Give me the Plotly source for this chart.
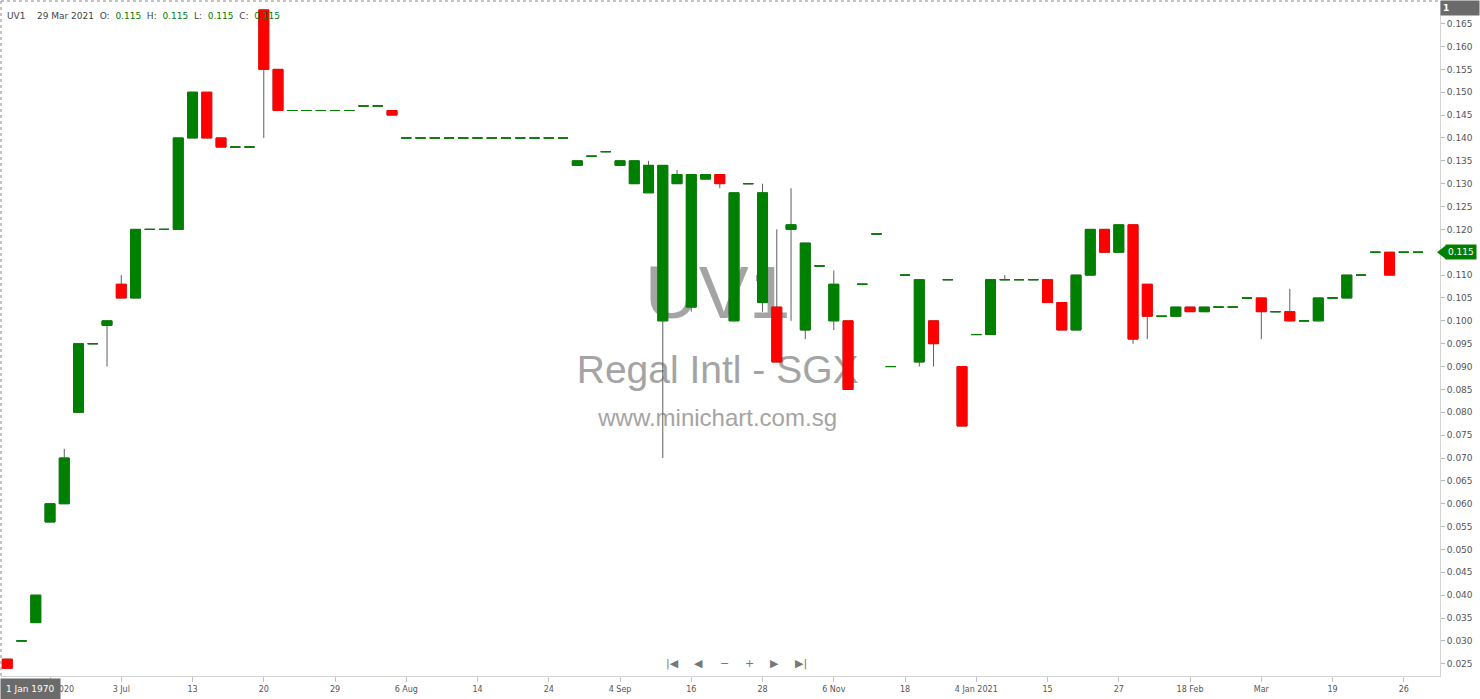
import plotly.graph_objects as go

# ---------------- data (one candle per trading session) ----------------
candle_index = list(range(100))

opens = [0.026, 0.030, 0.034, 0.056, 0.060, 0.080, 0.095, 0.099, 0.108, 0.105,
         0.120, 0.120, 0.120, 0.140, 0.150, 0.140, 0.138, 0.138, 0.168, 0.155,
         0.146, 0.146, 0.146, 0.146, 0.146, 0.147, 0.147, 0.146, 0.140, 0.140,
         0.140, 0.140, 0.140, 0.140, 0.140, 0.140, 0.140, 0.140, 0.140, 0.140,
         0.134, 0.136, 0.137, 0.134, 0.130, 0.128, 0.100, 0.130, 0.103, 0.131,
         0.132, 0.100, 0.130, 0.104, 0.103, 0.120, 0.098, 0.112, 0.100, 0.100,
         0.108, 0.119, 0.090, 0.110, 0.091, 0.100, 0.109, 0.090, 0.097, 0.097,
         0.109, 0.109, 0.109, 0.109, 0.104, 0.098, 0.110, 0.120, 0.115, 0.121,
         0.108, 0.101, 0.101, 0.103, 0.102, 0.103, 0.103, 0.105, 0.105, 0.102,
         0.102, 0.100, 0.100, 0.105, 0.105, 0.110, 0.115, 0.115, 0.115, 0.115]

highs = [0.026, 0.030, 0.040, 0.060, 0.072, 0.095, 0.095, 0.100, 0.110, 0.120,
         0.120, 0.120, 0.140, 0.150, 0.150, 0.140, 0.138, 0.138, 0.168, 0.155,
         0.146, 0.146, 0.146, 0.146, 0.146, 0.147, 0.147, 0.146, 0.140, 0.140,
         0.140, 0.140, 0.140, 0.140, 0.140, 0.140, 0.140, 0.140, 0.140, 0.140,
         0.135, 0.136, 0.137, 0.135, 0.135, 0.135, 0.134, 0.133, 0.132, 0.132,
         0.132, 0.128, 0.130, 0.130, 0.120, 0.129, 0.117, 0.112, 0.111, 0.100,
         0.108, 0.119, 0.090, 0.110, 0.109, 0.100, 0.109, 0.090, 0.097, 0.109,
         0.110, 0.109, 0.109, 0.109, 0.104, 0.110, 0.120, 0.120, 0.121, 0.121,
         0.108, 0.101, 0.103, 0.103, 0.103, 0.103, 0.103, 0.105, 0.105, 0.102,
         0.107, 0.100, 0.105, 0.105, 0.110, 0.110, 0.115, 0.115, 0.115, 0.115]

lows = [0.024, 0.030, 0.034, 0.056, 0.060, 0.080, 0.095, 0.090, 0.105, 0.105,
        0.120, 0.120, 0.120, 0.140, 0.140, 0.138, 0.138, 0.138, 0.140, 0.146,
        0.146, 0.146, 0.146, 0.146, 0.146, 0.147, 0.147, 0.145, 0.140, 0.140,
        0.140, 0.140, 0.140, 0.140, 0.140, 0.140, 0.140, 0.140, 0.140, 0.140,
        0.134, 0.136, 0.137, 0.134, 0.130, 0.128, 0.070, 0.130, 0.102, 0.131,
        0.129, 0.100, 0.130, 0.102, 0.091, 0.100, 0.096, 0.112, 0.098, 0.085,
        0.108, 0.119, 0.090, 0.110, 0.090, 0.090, 0.109, 0.077, 0.097, 0.097,
        0.109, 0.109, 0.109, 0.104, 0.098, 0.098, 0.110, 0.115, 0.115, 0.095,
        0.096, 0.101, 0.101, 0.102, 0.102, 0.103, 0.103, 0.105, 0.096, 0.102,
        0.100, 0.100, 0.100, 0.105, 0.105, 0.110, 0.115, 0.110, 0.115, 0.115]

closes = [0.024, 0.030, 0.040, 0.060, 0.070, 0.095, 0.095, 0.100, 0.105, 0.120,
          0.120, 0.120, 0.140, 0.150, 0.140, 0.138, 0.138, 0.138, 0.155, 0.146,
          0.146, 0.146, 0.146, 0.146, 0.146, 0.147, 0.147, 0.145, 0.140, 0.140,
          0.140, 0.140, 0.140, 0.140, 0.140, 0.140, 0.140, 0.140, 0.140, 0.140,
          0.135, 0.136, 0.137, 0.135, 0.135, 0.134, 0.134, 0.132, 0.132, 0.132,
          0.130, 0.128, 0.130, 0.128, 0.091, 0.121, 0.117, 0.112, 0.108, 0.085,
          0.108, 0.119, 0.090, 0.110, 0.109, 0.095, 0.109, 0.077, 0.097, 0.109,
          0.109, 0.109, 0.109, 0.104, 0.098, 0.110, 0.120, 0.115, 0.121, 0.096,
          0.101, 0.101, 0.103, 0.102, 0.103, 0.103, 0.103, 0.105, 0.102, 0.102,
          0.100, 0.100, 0.105, 0.105, 0.110, 0.110, 0.115, 0.110, 0.115, 0.115]

tick_positions = [3, 8, 13, 18, 23, 28, 33, 38, 43, 48,
                  53, 58, 63, 68, 73, 78, 83, 88, 93, 98]
tick_labels = ["26 Jun 2020", "3 Jul", "13", "20", "29", "6 Aug", "14", "24", "4 Sep", "16",
               "28", "6 Nov", "18", "4 Jan 2021", "15", "27", "18 Feb", "Mar", "19", "26"]

symbol = "UV1"
company = "Regal Intl - SGX"
website = "www.minichart.com.sg"
last_date = "29 Mar 2021"
crosshair_date = "1 Jan 1970"

GREEN = "#008000"
RED = "#ff0000"
WICK = "#5e5e5e"
WM = "#a4a4a4"

x_range = [-0.44, 100.54]
y_range = [0.02232, 0.16995]

# ---------------- figure ----------------
fig = go.Figure()

# watermark on the base (bottom) subplot so candles are drawn over it
fig.add_trace(go.Scatter(
    x=[0.498, 0.498, 0.498], y=[0.558, 0.448, 0.379],
    mode="text", text=[symbol, company, website],
    textposition="middle center",
    textfont=dict(family="Liberation Sans, Arial", size=[75, 39, 24], color=WM),
    xaxis="x", yaxis="y", hoverinfo="skip", showlegend=False))

# wicks (all candles)
fig.add_trace(go.Candlestick(
    x=candle_index, open=opens, high=highs, low=lows, close=closes,
    xaxis="x2", yaxis="y2",
    increasing=dict(line=dict(color=WICK, width=1), fillcolor="rgba(0,0,0,0)"),
    decreasing=dict(line=dict(color=WICK, width=1), fillcolor="rgba(0,0,0,0)"),
    hoverinfo="skip", showlegend=False))

# bodies
g_idx = [i for i in candle_index if closes[i] >= opens[i]]
r_idx = [i for i in candle_index if closes[i] < opens[i]]
for idx, col in ((g_idx, GREEN), (r_idx, RED)):
    fig.add_trace(go.Candlestick(
        x=idx,
        open=[opens[i] for i in idx], close=[closes[i] for i in idx],
        high=[max(opens[i], closes[i]) for i in idx],
        low=[min(opens[i], closes[i]) for i in idx],
        xaxis="x2", yaxis="y2",
        increasing=dict(line=dict(color=col, width=1), fillcolor=col),
        decreasing=dict(line=dict(color=col, width=1), fillcolor=col),
        hoverinfo="skip", showlegend=False))

last_close = closes[-1]
last_col = GREEN if closes[-1] >= opens[-1] else RED

annotations = []
# header line
vals = [opens[-1], highs[-1], lows[-1], closes[-1]]
sp = "&nbsp;"
header = (f"{symbol}{sp*4}{last_date}{sp*2}O:{sp*2}<span style='color:{GREEN}'>{vals[0]:.3f}</span>"
          f"{sp*2}H:{sp*2}<span style='color:{GREEN}'>{vals[1]:.3f}</span>"
          f"{sp*2}L:{sp*2}<span style='color:{GREEN}'>{vals[2]:.3f}</span>"
          f"{sp*2}C:{sp*2}<span style='color:{GREEN}'>{vals[3]:.3f}</span>")
annotations.append(dict(xref="paper", yref="paper", x=0, y=1, xanchor="left", yanchor="middle",
                        xshift=4, yshift=-14.5, showarrow=False, text=header,
                        font=dict(family="DejaVu Sans", size=9, color="#444")))

# navigation glyphs
nav = [("|◀", 672), ("◀", 698), ("−", 724), ("+", 749), ("▶", 775), ("▶|", 801)]
for t, px in nav:
    annotations.append(dict(xref="paper", yref="paper", x=(px - 1) / 1439, y=1 - (663 - 1) / 675,
                            xanchor="center", yanchor="middle", showarrow=False, text=t,
                            font=dict(family="DejaVu Sans", size=11, color="#777")))

# crosshair date box
annotations.append(dict(xref="paper", yref="paper", x=0, y=0, xanchor="left", yanchor="top",
                        xshift=-1, yshift=-2, showarrow=False, text=crosshair_date,
                        bgcolor="#6b6b6b", borderpad=5,
                        font=dict(family="DejaVu Sans", size=9, color="white")))

# top-right "1" box
annotations.append(dict(xref="paper", yref="paper", x=1, y=1, xanchor="left", yanchor="top",
                        yshift=1, showarrow=False, text="<b>1</b>", width=34, align="left",
                        bgcolor="#6b6b6b", borderpad=2,
                        font=dict(family="DejaVu Sans", size=9, color="white")))

# last price tag
annotations.append(dict(xref="paper", yref="y2", x=1, y=last_close, xanchor="left", yanchor="middle",
                        xshift=5, showarrow=False, text=f"{last_close:.3f}",
                        bgcolor=last_col, borderpad=2,
                        font=dict(family="DejaVu Sans", size=9, color="white")))

shapes = [
    dict(type="line", xref="paper", yref="paper", x0=0, x1=1, y0=1, y1=1,
         line=dict(color="#8a8a8a", width=1, dash="dot")),
    dict(type="line", xref="paper", yref="paper", x0=0, x1=0, y0=0, y1=1,
         line=dict(color="#8a8a8a", width=1, dash="dot")),
    dict(type="path", xref="paper", yref="y2", xsizemode="pixel", ysizemode="pixel",
         xanchor=1, yanchor=last_close, path="M -3,0 L 6,7 L 6,-7 Z",
         fillcolor=last_col, line=dict(width=0)),
]

fig.update_layout(
    width=1480, height=699,
    margin=dict(l=1, r=40, t=1, b=23),
    paper_bgcolor="white", plot_bgcolor="white",
    showlegend=False, hovermode=False,
    boxgap=0.3, boxgroupgap=0,
    xaxis=dict(range=[0, 1], visible=False, showgrid=False, zeroline=False),
    yaxis=dict(range=[0, 1], visible=False, showgrid=False, zeroline=False),
    xaxis2=dict(overlaying="x", anchor="y2", range=x_range,
                tickmode="array", tickvals=tick_positions, ticktext=tick_labels,
                showline=True, linecolor="#d4d4d4", linewidth=1,
                ticks="outside", ticklen=5, tickcolor="#c4c4c4",
                showgrid=False, zeroline=False,
                rangeslider=dict(visible=False),
                tickfont=dict(family="DejaVu Sans", size=8, color="#555")),
    yaxis2=dict(overlaying="y", anchor="x2", side="right", range=y_range,
                tick0=0, dtick=0.005, tickformat=".3f",
                showline=True, linecolor="#d4d4d4", linewidth=1,
                ticks="outside", ticklen=4, tickcolor="#b8b8b8",
                showgrid=False, zeroline=False,
                tickfont=dict(family="DejaVu Sans", size=9, color="#555")),
    annotations=annotations,
    shapes=shapes,
)

fig.write_html("out.html", config={"displayModeBar": False},
               post_script="document.body.style.margin='0';document.body.style.overflow='hidden';")
